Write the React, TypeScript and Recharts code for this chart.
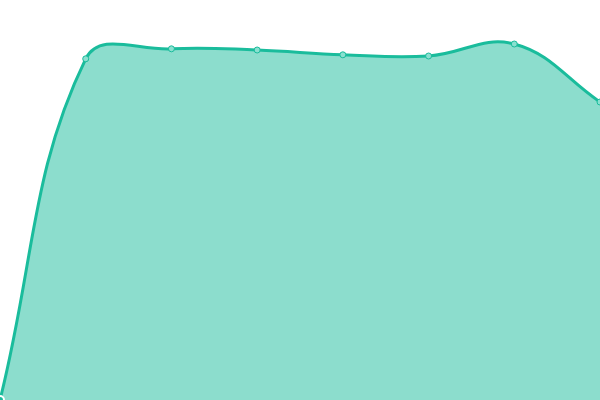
import React from 'react';
import { AreaChart, Area, XAxis, YAxis } from 'recharts';

const categories = ['1', '2', '3', '4', '5', '6', '7', '8'];
const values = [0, 85.3, 87.8, 87.5, 86.3, 86, 89, 74.5];

const data = categories.map((name, i) => ({ name, value: values[i] }));

// bezier curve with tension 0.4, same idea as a Chart.js line
const TENSION = 0.4;
const tensionCurve = (context: any) => ({
  _line: NaN as number,
  _pts: [] as number[][],
  areaStart() {
    this._line = 0;
  },
  areaEnd() {
    this._line = NaN;
  },
  lineStart() {
    this._pts = [];
  },
  point(x: number, y: number) {
    this._pts.push([+x, +y]);
  },
  lineEnd() {
    const p = this._pts;
    const n = p.length;
    if (n) {
      if (this._line) context.lineTo(p[0][0], p[0][1]);
      else context.moveTo(p[0][0], p[0][1]);
    }
    const ctrl = p.map((cur, i) => {
      const prev = p[i - 1] || cur;
      const next = p[i + 1] || cur;
      const d01 = Math.hypot(cur[0] - prev[0], cur[1] - prev[1]);
      const d12 = Math.hypot(next[0] - cur[0], next[1] - cur[1]);
      const sum = d01 + d12 || 1;
      const fa = (TENSION * d01) / sum;
      const fb = (TENSION * d12) / sum;
      const dx = next[0] - prev[0];
      const dy = next[1] - prev[1];
      return {
        inX: cur[0] - fa * dx,
        inY: cur[1] - fa * dy,
        outX: cur[0] + fb * dx,
        outY: cur[1] + fb * dy,
      };
    });
    for (let i = 1; i < n; i++) {
      context.bezierCurveTo(
        ctrl[i - 1].outX,
        ctrl[i - 1].outY,
        ctrl[i].inX,
        ctrl[i].inY,
        p[i][0],
        p[i][1]
      );
    }
    if (this._line || (this._line !== 0 && n === 1)) context.closePath();
    this._line = 1 - this._line;
  },
});

export default function App() {
  return (
    <div style={{ position: 'fixed', left: 0, top: 0, width: 600, height: 400, background: '#fff' }}>
      <AreaChart width={600} height={400} data={data} margin={{ top: 0, right: 0, bottom: 0, left: 0 }}>
        <XAxis dataKey="name" hide />
        <YAxis hide domain={[0, 100]} />
        <Area
          type={tensionCurve as any}
          dataKey="value"
          stroke="#1abc9c"
          strokeWidth={3}
          fill="#1abc9c"
          fillOpacity={0.5}
          dot={{ r: 3, fill: '#8ae0d0', stroke: '#1abc9c', strokeWidth: 1, fillOpacity: 1 }}
          isAnimationActive={false}
        />
      </AreaChart>
    </div>
  );
}
